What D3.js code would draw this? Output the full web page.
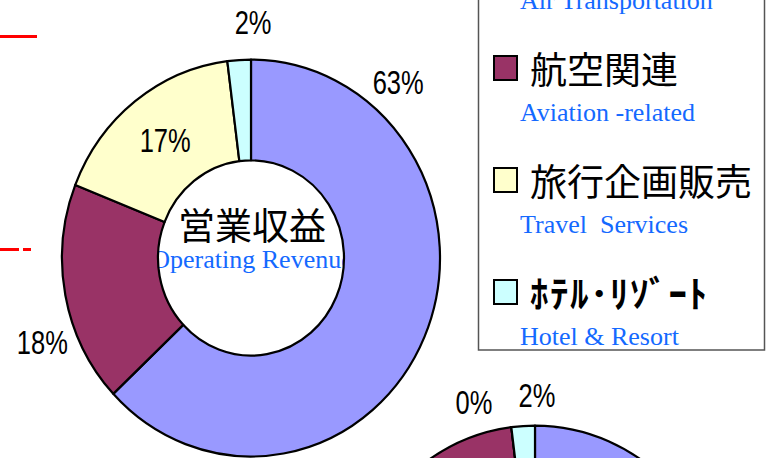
<!DOCTYPE html>
<html>
<head>
<meta charset="utf-8">
<script src="https://cdn.jsdelivr.net/npm/d3@7"></script>
<style>
  body { margin: 0; background: #fff; }
  svg { display: block; }
  .en { font-family: 'Liberation Serif', 'Times New Roman', serif; fill: #1469ff; white-space: pre; }
  .ja { font-family: 'Noto Sans CJK JP', sans-serif; fill: #000; }
  .pct { font-family: 'Liberation Sans', Arial, sans-serif; fill: #000; }
</style>
</head>
<body>
<div id="chart"></div>
<script>
// Segments (clockwise from 12 o'clock)
const segments = ['航空輸送', '航空関連', '旅行企画販売', 'ﾎﾃﾙ･ﾘｿﾞｰﾄ']
const segmentsEn = ['Air Transportation', 'Aviation -related', 'Travel  Services', 'Hotel & Resort']
const colors = ['#9999ff', '#993366', '#ffffcc', '#ccffff']

// Operating revenue share (%)
const revenueShare = [63, 18, 17, 2]
// Second donut (cut off at the bottom)
const secondShare = [80, 18, 0, 2]

// Label placement: angle (deg, clockwise from top) and distance from centre
const revenueLabels = [
  { angle: 40, r: 229 },
  { angle: -112, r: 225 },
  { angle: -36, r: 146 },
  { angle: 0.5, r: 236 }
]
const secondLabels = [
  { angle: 50.5, r: 242 },
  null,
  { angle: -15.4, r: 230 },
  { angle: 0.5, r: 229 }
]

const width = 771
const height = 458
const outerR = 189
const innerR = 93
const squash = 1.05

const svg = d3.select('#chart')
  .append('svg')
  .attr('width', width)
  .attr('height', height)

// Red guide lines from the neighbouring chart
svg.append('line')
  .attr('x1', 0).attr('x2', 37).attr('y1', 36.5).attr('y2', 36.5)
  .attr('stroke', '#ff0000').attr('stroke-width', 3)
svg.append('line')
  .attr('x1', 0).attr('x2', 31).attr('y1', 249.5).attr('y2', 249.5)
  .attr('stroke', '#ff0000').attr('stroke-width', 3)
  .attr('stroke-dasharray', '19 4 8 0')

const pie = d3.pie().sort(null).value(d => d)
const arc = d3.arc().innerRadius(innerR).outerRadius(outerR)

const drawDonut = (cx, cy, values, labels, title) => {
  const g = svg.append('g').attr('transform', `translate(${cx}, ${cy})`)

  if (title) {
    g.append('text')
      .attr('class', 'en')
      .attr('text-anchor', 'middle')
      .attr('x', 1)
      .attr('y', 10)
      .style('font-size', '26px')
      .text(title.en)
  }

  const ring = g.append('g').attr('transform', `scale(1, ${squash})`)
  ring.selectAll('path')
    .data(pie(values))
    .join('path')
    .attr('d', arc)
    .attr('fill', (d, i) => colors[i])
    .attr('stroke', '#000')
    .attr('stroke-width', 2.2)
    .attr('stroke-linejoin', 'round')
    .attr('vector-effect', 'non-scaling-stroke')

  if (title) {
    g.append('text')
      .attr('class', 'ja')
      .attr('text-anchor', 'middle')
      .attr('dominant-baseline', 'central')
      .attr('x', 1)
      .attr('y', -34)
      .style('font-size', '37px')
      .text(title.ja)
  }

  values.forEach((v, i) => {
    const l = labels[i]
    if (!l) return
    const [x, y] = d3.pointRadial(l.angle * Math.PI / 180, l.r)
    g.append('text')
      .attr('class', 'pct')
      .attr('transform', `translate(${x}, ${y}) scale(0.75, 1)`)
      .attr('text-anchor', 'middle')
      .attr('dominant-baseline', 'central')
      .style('font-size', '34px')
      .text(`${v}%`)
  })
}

drawDonut(251, 258, revenueShare, revenueLabels, { ja: '営業収益', en: 'Operating Revenue' })
drawDonut(535, 624, secondShare, secondLabels, null)

// Legend
const legend = svg.append('g')
legend.append('rect')
  .attr('x', 478.5)
  .attr('y', -120)
  .attr('width', 286)
  .attr('height', 470)
  .attr('fill', 'none')
  .attr('stroke', '#555')
  .attr('stroke-width', 1.5)

const rowY = d3.scaleLinear().domain([0, 1]).range([-44, 68])

segments.forEach((name, i) => {
  const y = rowY(i)
  legend.append('rect')
    .attr('x', 494)
    .attr('y', y - 12)
    .attr('width', 23)
    .attr('height', 24)
    .attr('fill', colors[i])
    .attr('stroke', '#000')
    .attr('stroke-width', 2)
  legend.append('text')
    .attr('class', 'ja')
    .attr('x', 530)
    .attr('y', y)
    .attr('dominant-baseline', 'central')
    .style('font-size', '37px')
    .style('font-weight', i === 3 ? 'bold' : 'normal')
    .style('letter-spacing', i === 3 ? '1.5px' : '0px')
    .text(name)
  legend.append('text')
    .attr('class', 'en')
    .attr('x', 520)
    .attr('y', y + 53)
    .style('font-size', '26px')
    .text(segmentsEn[i])
})
</script>
</body>
</html>
